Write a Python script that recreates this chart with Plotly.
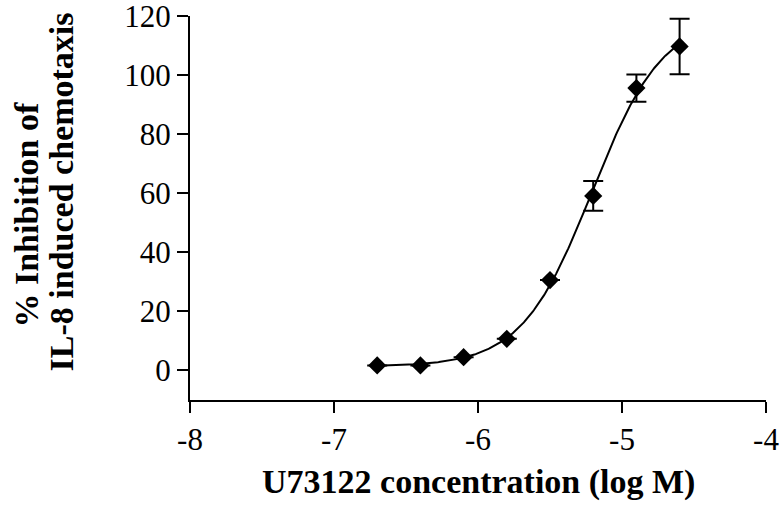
import numpy as np
import plotly.graph_objects as go

# Concentration (log M) and % inhibition (mean, SEM)
log_conc = [-6.7, -6.4, -6.1, -5.8, -5.5, -5.2, -4.9, -4.6]
inhibition = [1.7, 1.7, 4.5, 10.7, 30.6, 59.1, 95.6, 109.7]
sem = [0, 0, 0, 0, 0, 5.0, 4.6, 9.4]

x_ticks = [-8, -7, -6, -5, -4]
y_ticks = [0, 20, 40, 60, 80, 100, 120]


def fit_logistic(x, y):
    """Four-parameter logistic fit: grid over (logEC50, Hill), linear solve for bottom/top."""
    x = np.asarray(x, float)
    y = np.asarray(y, float)
    ec = np.linspace(-6.0, -4.0, 801)[:, None, None]
    hill = np.linspace(0.3, 3.0, 271)[None, :, None]
    s = 1.0 / (1.0 + 10 ** ((ec - x[None, None, :]) * hill))
    sm = s.mean(axis=2, keepdims=True)
    ym = y.mean()
    slope = ((s - sm) * (y - ym)).sum(axis=2, keepdims=True) / ((s - sm) ** 2).sum(axis=2, keepdims=True)
    inter = ym - slope * sm
    sse = ((inter + slope * s - y) ** 2).sum(axis=2)
    i, j = np.unravel_index(np.argmin(sse), sse.shape)
    bottom = inter[i, j, 0]
    top = bottom + slope[i, j, 0]
    return bottom, top, ec[i, 0, 0], hill[0, j, 0]


bottom, top, log_ec50, hill_slope = fit_logistic(log_conc, inhibition)
curve_x = np.linspace(min(log_conc), max(log_conc), 300)
curve_y = bottom + (top - bottom) / (1 + 10 ** ((log_ec50 - curve_x) * hill_slope))

serif = "Liberation Serif, Times New Roman, serif"

fig = go.Figure()
fig.add_trace(go.Scatter(
    x=curve_x, y=curve_y, mode="lines",
    line=dict(color="black", width=2), hoverinfo="skip", showlegend=False,
))
fig.add_trace(go.Scatter(
    x=log_conc, y=inhibition, mode="markers",
    marker=dict(symbol="diamond", size=14, color="black"),
    error_y=dict(type="data", array=sem, visible=True, color="black", thickness=2, width=10),
    showlegend=False,
))

tick_font = dict(family=serif, size=31, color="black")
axis_style = dict(
    showline=True, linecolor="black", linewidth=2,
    ticks="outside", ticklen=11, tickwidth=2, tickcolor="black",
    showgrid=False, zeroline=False, tickfont=tick_font,
    ticklabeloverflow="allow", automargin=False,
)

fig.update_layout(
    width=781, height=508,
    margin=dict(l=190, r=15, t=16, b=108),
    paper_bgcolor="white", plot_bgcolor="white",
    font=dict(family=serif, color="black", size=31),
    xaxis=dict(range=[-8, -4], tickvals=x_ticks, ticktext=[str(v) for v in x_ticks], **axis_style),
    yaxis=dict(range=[-10, 120], tickvals=y_ticks, ticktext=[str(v) for v in y_ticks], **axis_style),
)

title_font = dict(family=serif, size=34, color="black")
fig.add_annotation(
    text="<b>U73122 concentration (log M)</b>", xref="paper", yref="paper",
    x=0.5, y=-0.16, xanchor="center", yanchor="top", showarrow=False, font=title_font,
)
fig.add_annotation(
    text="<b>% Inhibition of</b>", xref="paper", yref="paper",
    x=-0.284, y=0.484, xanchor="center", yanchor="middle", textangle=-90,
    showarrow=False, font=title_font,
)
fig.add_annotation(
    text="<b>IL-8 induced chemotaxis</b>", xref="paper", yref="paper",
    x=-0.223, y=0.542, xanchor="center", yanchor="middle", textangle=-90,
    showarrow=False, font=title_font,
)

fig.write_html("out.html")
